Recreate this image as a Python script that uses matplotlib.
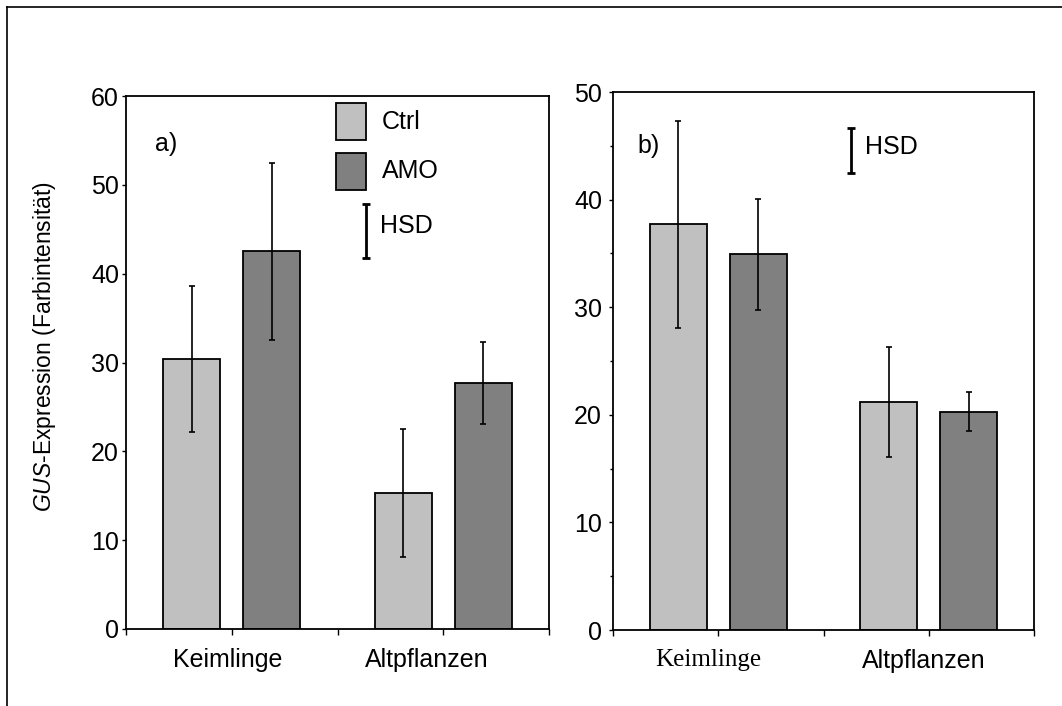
import matplotlib
matplotlib.use("Agg")
import matplotlib.pyplot as plt
from matplotlib.lines import Line2D
from matplotlib.patches import Rectangle
import numpy as np

plt.rcParams['font.family'] = ['Liberation Sans', 'DejaVu Sans']
plt.rcParams['mathtext.fontset'] = 'custom'
plt.rcParams['mathtext.rm'] = 'Liberation Sans'
plt.rcParams['mathtext.it'] = 'Liberation Sans:italic'

# ---- data ----
groups = ["Keimlinge", "Altpflanzen"]
series = ["Ctrl", "AMO"]
colors = ["#c0c0c0", "#808080"]

# panel a
a_ctrl = [30.4, 15.3]
a_ctrl_err = [8.2, 7.2]
a_amo = [42.5, 27.7]
a_amo_err = [10.0, 4.6]
a_hsd = 6.0

# panel b
b_ctrl = [37.7, 21.2]
b_ctrl_err = [9.6, 5.1]
b_amo = [34.9, 20.3]
b_amo_err = [5.2, 1.8]
b_hsd = 4.2

W, H = 1062, 706
fig = plt.figure(figsize=(W / 100, H / 100), dpi=100)

# outer frame (left and top visible)
fig.add_artist(Line2D([7 / W, 7 / W], [0, 1 - 7 / H], transform=fig.transFigure,
                      color="black", lw=1.2))
fig.add_artist(Line2D([7 / W, 1], [1 - 7 / H, 1 - 7 / H], transform=fig.transFigure,
                      color="black", lw=1.2))

def px_axes(l, t, r, b):
    return [l / W, 1 - b / H, (r - l) / W, (b - t) / H]

axA = fig.add_axes(px_axes(126, 96, 549, 629))
axB = fig.add_axes(px_axes(613, 92, 1034, 630))

centers = np.array([0.5, 1.5])
off = 0.19
bw = 0.27
FS = 18

def draw(ax, ctrl, ctrl_err, amo, amo_err, ymax, label_pos, label_fonts):
    ax.bar(centers - off, ctrl, bw, color=colors[0], edgecolor="black", lw=1.3, zorder=2)
    ax.bar(centers + off, amo, bw, color=colors[1], edgecolor="black", lw=1.3, zorder=2)
    ax.errorbar(centers - off, ctrl, yerr=ctrl_err, fmt="none", ecolor="black",
                elinewidth=1.2, capsize=2.5, capthick=1.2, zorder=3)
    ax.errorbar(centers + off, amo, yerr=amo_err, fmt="none", ecolor="black",
                elinewidth=1.2, capsize=2.5, capthick=1.2, zorder=3)
    ax.set_xlim(0, 2)
    ax.set_ylim(0, ymax)
    ax.set_yticks(np.arange(0, ymax + 1, 10))
    ax.tick_params(axis="y", labelsize=FS, length=3, width=1, pad=2, direction="out")
    ax.set_xticks(np.arange(0, 2.01, 0.5), minor=True)
    ax.set_xticks(label_pos)
    ax.set_xticklabels(groups)
    for lab, fam in zip(ax.get_xticklabels(), label_fonts):
        lab.set_family(fam)
        lab.set_fontsize(FS)
    ax.tick_params(axis="x", which="major", length=0, pad=14)
    ax.tick_params(axis="x", which="minor", length=4, width=1, direction="out")
    for s in ax.spines.values():
        s.set_linewidth(1.3)

draw(axA, a_ctrl, a_ctrl_err, a_amo, a_amo_err, 60, [0.482, 1.423],
     ["Liberation Sans", "Liberation Sans"])
draw(axB, b_ctrl, b_ctrl_err, b_amo, b_amo_err, 50, [0.451, 1.475],
     ["Liberation Serif", "Liberation Sans"])
axB.set_yticks(np.arange(0, 51, 5), minor=True)
axB.tick_params(axis="y", which="minor", length=2, width=1)
axB.tick_params(axis="y", which="major", pad=5)

# panel labels
axA.text(0.069, 0.91, "a)", transform=axA.transAxes, fontsize=FS, va="center", ha="left")
axB.text(0.059, 0.90, "b)", transform=axB.transAxes, fontsize=FS, va="center", ha="left")

# legend in panel a
for (y0, y1), c, name in zip([(0.917, 0.987), (0.824, 0.893)], colors, series):
    axA.add_patch(Rectangle((0.496, y0), 0.071, y1 - y0, transform=axA.transAxes,
                            facecolor=c, edgecolor="black", lw=1.3, zorder=4))
    axA.text(0.605, (y0 + y1) / 2, name, transform=axA.transAxes, fontsize=FS,
             va="center", ha="left")

# HSD bars
axA.errorbar([1.135], [44.8], yerr=[a_hsd / 2], fmt="none", ecolor="black",
             elinewidth=2, capsize=3, capthick=2, zorder=4)
axA.text(1.20, 45.4, "HSD", fontsize=FS, va="center", ha="left")
axB.errorbar([1.131], [44.6], yerr=[b_hsd / 2], fmt="none", ecolor="black",
             elinewidth=2, capsize=3, capthick=2, zorder=4)
axB.text(1.197, 44.9, "HSD", fontsize=FS, va="center", ha="left")

# y label
fig.text(45 / W, 1 - 346 / H, r"$\mathit{GUS}$-Expression (Farbintensität)",
         rotation=90, fontsize=16.5, va="center", ha="center")

fig.savefig("out.png", dpi=100)
